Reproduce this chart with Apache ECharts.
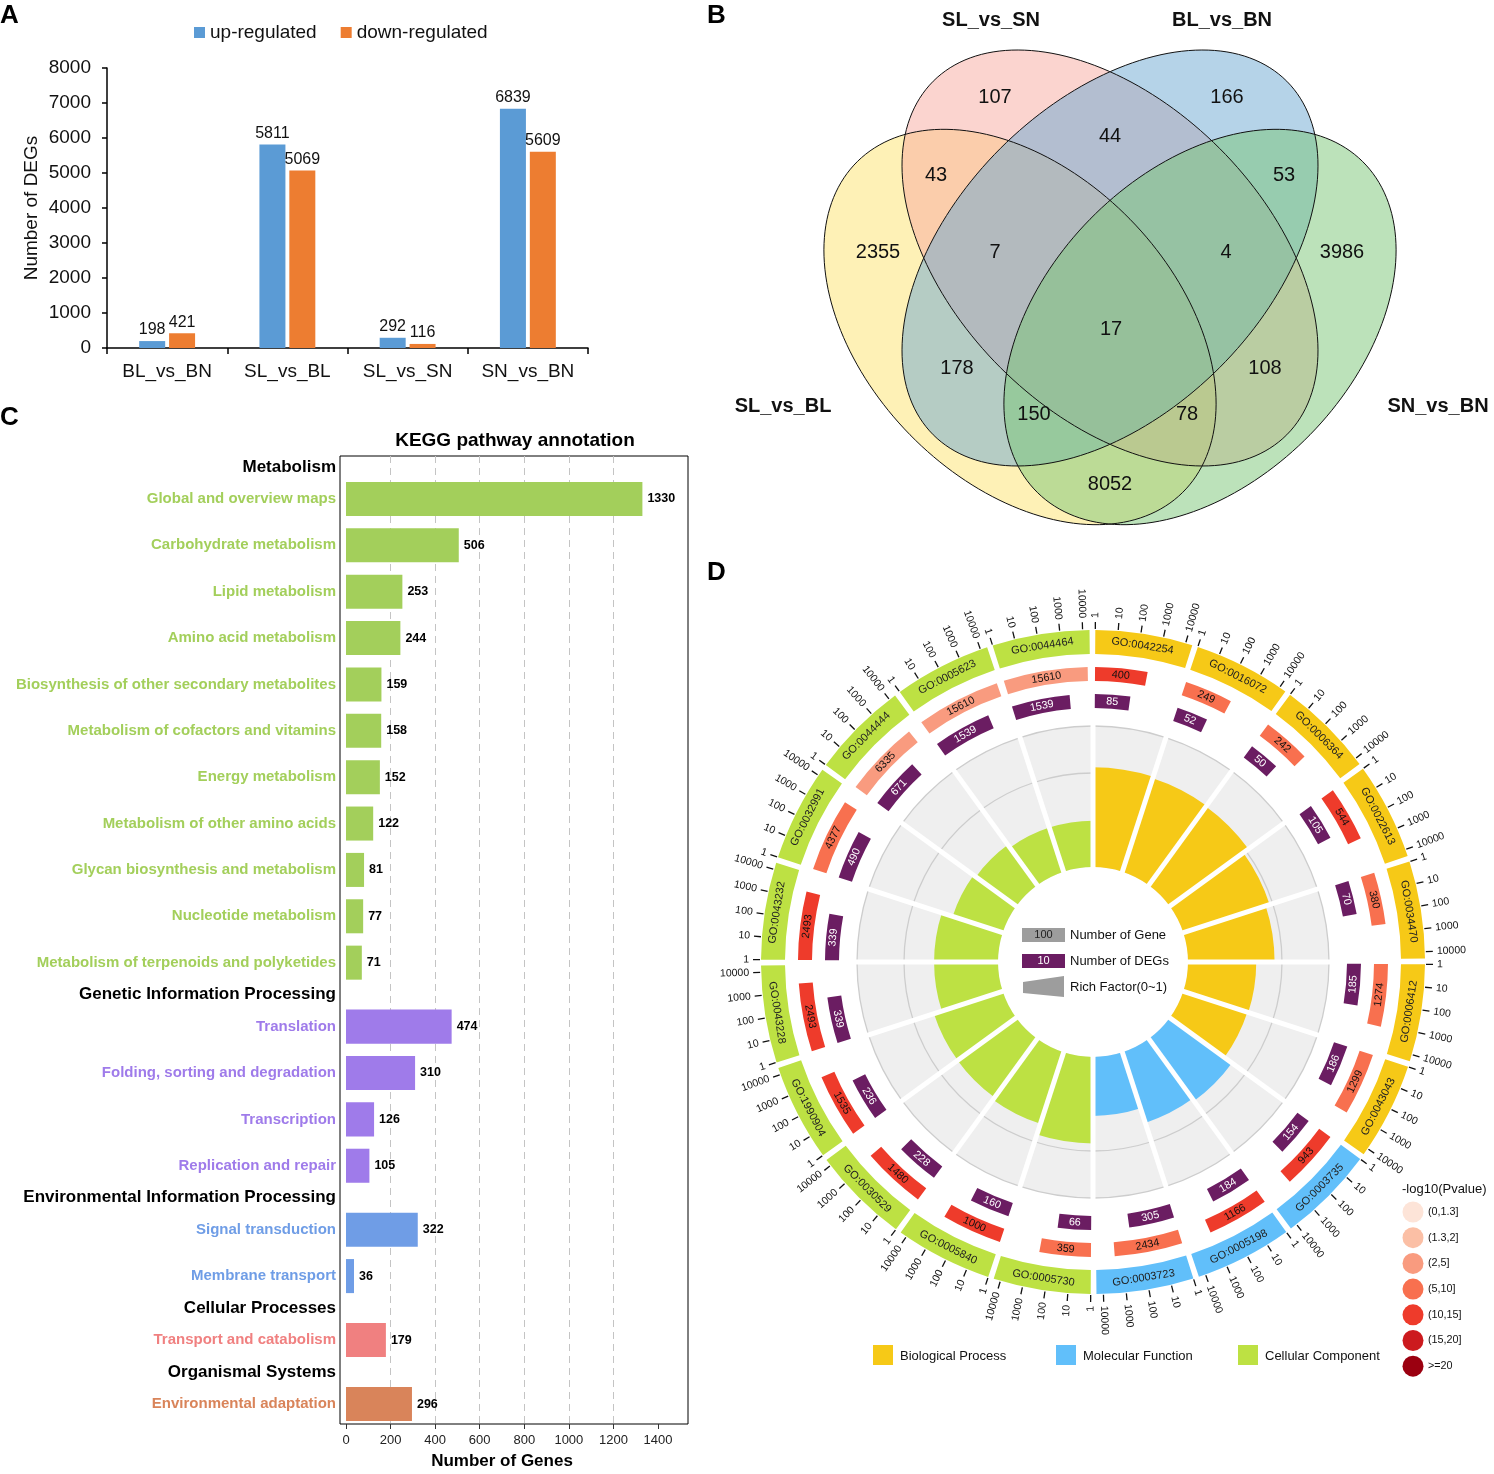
<!DOCTYPE html>
<html>
<head>
<meta charset="utf-8">
<title>DEG overview figure</title>
<script src="https://cdn.jsdelivr.net/npm/echarts@6/dist/echarts.min.js"></script>
<style>
html,body{margin:0;padding:0;background:#ffffff;}
#chart{width:1494px;height:1474px;}
</style>
</head>
<body>
<div id="chart"></div>
<script>
// ================= DATA =================
// Panel A
const degComparisons = ['BL_vs_BN', 'SL_vs_BL', 'SL_vs_SN', 'SN_vs_BN'];
const upRegulated = [198, 5811, 292, 6839];
const downRegulated = [421, 5069, 116, 5609];
const degSeriesNames = ['up-regulated', 'down-regulated'];

// Panel B (Venn)
const vennSetNames = ['SL_vs_BL', 'SL_vs_SN', 'BL_vs_BN', 'SN_vs_BN'];
const vennRegionMembers = [
  'SL_vs_SN', 'BL_vs_BN', 'SL_vs_SN+BL_vs_BN', 'SL_vs_BL+SL_vs_SN', 'BL_vs_BN+SN_vs_BN',
  'SL_vs_BL', 'SL_vs_BL+SL_vs_SN+BL_vs_BN', 'SL_vs_SN+BL_vs_BN+SN_vs_BN', 'SN_vs_BN', 'all',
  'SL_vs_BL+BL_vs_BN', 'SL_vs_SN+SN_vs_BN', 'SL_vs_BL+BL_vs_BN+SN_vs_BN', 'SL_vs_BL+SL_vs_SN+SN_vs_BN', 'SL_vs_BL+SN_vs_BN'
];
const vennRegionCounts = [107, 166, 44, 43, 53, 2355, 7, 4, 3986, 17, 178, 108, 150, 78, 8052];

// Panel C (KEGG)
const keggGroups = ['Metabolism', 'Genetic Information Processing', 'Environmental Information Processing', 'Cellular Processes', 'Organismal Systems'];
const keggPathways = [
  'Global and overview maps', 'Carbohydrate metabolism', 'Lipid metabolism', 'Amino acid metabolism',
  'Biosynthesis of other secondary metabolites', 'Metabolism of cofactors and vitamins', 'Energy metabolism',
  'Metabolism of other amino acids', 'Glycan biosynthesis and metabolism', 'Nucleotide metabolism',
  'Metabolism of terpenoids and polyketides',
  'Translation', 'Folding, sorting and degradation', 'Transcription', 'Replication and repair',
  'Signal transduction', 'Membrane transport',
  'Transport and catabolism',
  'Environmental adaptation'
];
const keggPathwayGroup = [0,0,0,0,0,0,0,0,0,0,0, 1,1,1,1, 2,2, 3, 4];
const keggGeneCounts = [1330, 506, 253, 244, 159, 158, 152, 122, 81, 77, 71, 474, 310, 126, 105, 322, 36, 179, 296];

// Panel D (GO circle)
const goTerms = ['GO:0042254','GO:0016072','GO:0006364','GO:0022613','GO:0034470','GO:0006412','GO:0043043',
  'GO:0003735','GO:0005198','GO:0003723',
  'GO:0005730','GO:0005840','GO:0030529','GO:1990904','GO:0043228','GO:0043232','GO:0032991','GO:0044444','GO:0005623','GO:0044464'];
const goOntology = ['BP','BP','BP','BP','BP','BP','BP','MF','MF','MF','CC','CC','CC','CC','CC','CC','CC','CC','CC','CC'];
const goGeneCounts = [400, 249, 242, 544, 380, 1274, 1299, 943, 1166, 2434, 359, 1000, 1480, 1535, 2493, 2493, 4377, 6335, 15610, 15610];
const goDegCounts = [85, 52, 50, 105, 70, 185, 186, 154, 184, 305, 66, 160, 228, 236, 339, 339, 490, 671, 1539, 1539];
const goNegLog10P = [12.5, 7.5, 7.5, 12.5, 7.5, 7.5, 7.5, 12.5, 12.5, 7.5, 7.5, 12.5, 12.5, 12.5, 12.5, 12.5, 7.5, 3.5, 3.5, 3.5];
const goOntologyKeys = ['BP', 'MF', 'CC'];
const goOntologyNames = ['Biological Process', 'Molecular Function', 'Cellular Component'];
const pValueBins = ['(0,1.3]', '(1.3,2]', '(2,5]', '(5,10]', '(10,15]', '(15,20]', '>=20'];
const pValueBinEdges = [1.3, 2, 5, 10, 15, 20];
const logTickLabels = ['1', '10', '100', '1000', '10000'];

// ================= STYLE / LAYOUT =================
const FONT = '"Liberation Sans", Arial, Helvetica, sans-serif';
const degColors = ['#5b9bd5', '#ed7d31'];
const vennFill = ['#fde36d', '#f7a99f', '#6ba7d1', '#79c575'];
const vennLayout = {
  // cx, cy, semi-major, semi-minor, rotation(deg) in panel units
  ellipses: [[320, 327, 232, 154, 45.6], [410, 258, 250, 155, 45], [410, 258, 250, 155, -45], [500, 327, 232, 154, -45.6]],
  labels: [[295,97],[527,97],[410,136],[236,175],[584,175],[178,252],[295,252],[526,252],[642,252],[411,329],[257,368],[565,368],[334,414],[487,414],[410,484]],
  setLabels: [[83,406],[291,20],[522,20],[738,406]]
};
const keggColors = ['#a3cf5b', '#9f7bea', '#6f9de6', '#f08080', '#d9845a'];
const KEGG_HEADER_STEP = 0.69;
const KEGG_BAR_HALF = 0.367;
const ontColors = {BP: '#f6c917', MF: '#61bffa', CC: '#bde143'};
const pColors = ['#fde4d8', '#fbbfa5', '#f99b7f', '#f8704f', '#ee3b2b', '#cc1a1e', '#9b0010'];
const degPurple = '#6b1d62';
const GO = {
  center: [1093, 962], rfRadius: [95, 236], rfMax: 0.3, rfGrid: [0.2, 0.3],
  ringMax: 400, degRing: [254, 268], geneRing: [281, 295], band: [308, 332], tick: [333, 340], tickLabel: 344,
  start: 0.4, perDecade: 3.95, bandEnd: 17.4
};
const GO_SPAN = 360 / goTerms.length;

// KEGG row layout built from the group structure
const keggRows = [];
(function () {
  let pos = 0;
  keggGroups.forEach((g, gi) => {
    if (keggRows.length) pos += KEGG_HEADER_STEP;
    keggRows.push({name: g, header: true, group: gi, value: 0, pos: pos});
    let first = true;
    keggPathways.forEach((p, pi) => {
      if (keggPathwayGroup[pi] !== gi) return;
      pos += first ? KEGG_HEADER_STEP : 1;
      first = false;
      keggRows.push({name: p, header: false, group: gi, value: keggGeneCounts[pi], pos: pos});
    });
  });
})();
const keggLast = keggRows[keggRows.length - 1].pos;

function pBinIndex(v) { let k = 0; while (k < pValueBinEdges.length && v > pValueBinEdges[k]) k++; return k; }
function norm360(a) { return ((a % 360) + 360) % 360; }

// ================= RENDERERS =================
function renderEllipse(fillMode) {
  return function (params, api) {
    const i = params.dataIndex;
    const e = vennLayout.ellipses[i];
    const t = e[4] * Math.PI / 180;
    const pts = [];
    for (let k = 0; k < 180; k++) {
      const th = k / 180 * 2 * Math.PI;
      const x = e[0] + e[2] * Math.cos(th) * Math.cos(t) - e[3] * Math.sin(th) * Math.sin(t);
      const y = e[1] + e[2] * Math.cos(th) * Math.sin(t) + e[3] * Math.sin(th) * Math.cos(t);
      pts.push(api.coord([x, y]));
    }
    if (fillMode) return {type: 'polygon', shape: {points: pts}, style: {fill: vennFill[i], opacity: 0.5}};
    return {type: 'polygon', shape: {points: pts}, style: {fill: null, stroke: '#111', lineWidth: 1}};
  };
}

function renderKegg(params, api) {
  const row = keggRows[params.dataIndex];
  const y = api.value(1);
  if (row.header) {
    const p = api.coord([0, y]);
    return {type: 'text', x: p[0] - 10, y: p[1], style: {text: row.name, fontFamily: FONT, fontSize: 17, fontWeight: 'bold', fill: '#000', align: 'right', verticalAlign: 'middle'}};
  }
  const p0 = api.coord([0, y - KEGG_BAR_HALF]);
  const p1 = api.coord([api.value(0), y + KEGG_BAR_HALF]);
  const col = keggColors[row.group];
  const cy = (p0[1] + p1[1]) / 2;
  return {type: 'group', children: [
    {type: 'rect', shape: {x: p0[0], y: p0[1], width: p1[0] - p0[0], height: p1[1] - p0[1]}, style: {fill: col}},
    {type: 'text', x: p1[0] + 5, y: cy, style: {text: String(row.value), fontFamily: FONT, fontSize: 12.5, fontWeight: 'bold', fill: '#000', align: 'left', verticalAlign: 'middle'}},
    {type: 'text', x: p0[0] - 10, y: cy, style: {text: row.name, fontFamily: FONT, fontSize: 15, fontWeight: 'bold', fill: col, align: 'right', verticalAlign: 'middle'}}
  ]};
}

function makeAngle(api, cs, rv) {
  return function (a) { const p = api.coord([rv, a]); return Math.atan2(p[1] - cs.cy, p[0] - cs.cx); };
}
function makeRad(api, cs) {
  return function (v) { const p = api.coord([v, 0]); return Math.hypot(p[0] - cs.cx, p[1] - cs.cy); };
}
function sectorEl(cs, ang, r0, r1, aa, ab, style) {
  let s = ang(aa), e = ang(ab);
  if (e < s) e += 2 * Math.PI;
  return {type: 'sector', shape: {cx: cs.cx, cy: cs.cy, r0: r0, r: r1, startAngle: s, endAngle: e}, style: style};
}
function arcEl(cs, ang, r, aa, ab, style) {
  let s = ang(aa), e = ang(ab);
  if (e < s) e += 2 * Math.PI;
  return {type: 'arc', shape: {cx: cs.cx, cy: cs.cy, r: r, startAngle: s, endAngle: e, clockwise: true}, style: style};
}

function renderRich(params, api) {
  const cs = params.coordSys, i = params.dataIndex;
  const a0 = i * GO_SPAN, a1 = (i + 1) * GO_SPAN;
  const ang = makeAngle(api, cs, GO.rfMax);
  const rad = makeRad(api, cs);
  const children = [
    sectorEl(cs, ang, rad(0), rad(GO.rfMax), a0, a1, {fill: '#efefef'})
  ];
  GO.rfGrid.forEach(g => children.push(arcEl(cs, ang, rad(g), a0, a1, {stroke: '#cdcdcd', lineWidth: 1.3, fill: null})));
  children.push(sectorEl(cs, ang, rad(0), rad(api.value(0)), a0, a1, {fill: ontColors[goOntology[i]]}));
  return {type: 'group', children: children};
}

function renderSeparator(params, api) {
  const cs = params.coordSys, i = params.dataIndex;
  const a = i * GO_SPAN;
  const pIn = api.coord([0, a]), pOut = api.coord([GO.rfMax, a]);
  const ext = (p, d) => { const dx = p[0] - cs.cx, dy = p[1] - cs.cy, L = Math.hypot(dx, dy); return [p[0] + dx / L * d, p[1] + dy / L * d]; };
  const q1 = ext(pIn, -4), q2 = ext(pOut, 3);
  return {type: 'line', shape: {x1: q1[0], y1: q1[1], x2: q2[0], y2: q2[1]}, style: {stroke: '#ffffff', lineWidth: 5}};
}

function tanText(pt, r, a, text, extra) {
  const p = pt(r, a);
  const t = norm360(a);
  const rotDeg = (t > 90 && t < 270) ? 180 - t : -t;
  return {type: 'text', x: p[0], y: p[1], rotation: rotDeg * Math.PI / 180,
    style: Object.assign({text: text, fontFamily: FONT, fontSize: 10.8, fill: '#111', align: 'center', verticalAlign: 'middle'}, extra || {})};
}
function radText(pt, r, a, text) {
  const p = pt(r, a);
  const t = norm360(a);
  const right = t < 180;
  const rotDeg = right ? 90 - t : 270 - t;
  return {type: 'text', x: p[0], y: p[1], rotation: rotDeg * Math.PI / 180,
    style: {text: text, fontFamily: FONT, fontSize: 10.5, fill: '#111', align: right ? 'left' : 'right', verticalAlign: 'middle'}};
}

function renderRings(params, api) {
  const cs = params.coordSys, i = params.dataIndex;
  const a0 = i * GO_SPAN;
  const ang = makeAngle(api, cs, 300);
  const rad = makeRad(api, cs);
  const pt = (r, a) => api.coord([r, a]);
  const gene = goGeneCounts[i], deg = goDegCounts[i];
  const gEnd = a0 + GO.start + Math.log10(gene) * GO.perDecade;
  const dEnd = a0 + GO.start + Math.log10(deg) * GO.perDecade;
  const children = [];
  // category band
  children.push(sectorEl(cs, ang, rad(GO.band[0]), rad(GO.band[1]), a0 + GO.start, a0 + GO.bandEnd, {fill: ontColors[goOntology[i]]}));
  children.push(tanText(pt, (GO.band[0] + GO.band[1]) / 2, a0 + (GO.start + GO.bandEnd) / 2, goTerms[i], {fontSize: 11, fill: '#222'}));
  // gene count bar
  children.push(sectorEl(cs, ang, rad(GO.geneRing[0]), rad(GO.geneRing[1]), a0 + GO.start, gEnd, {fill: pColors[pBinIndex(goNegLog10P[i])]}));
  children.push(tanText(pt, (GO.geneRing[0] + GO.geneRing[1]) / 2, (a0 + GO.start + gEnd) / 2, String(gene), {fill: '#111'}));
  // DEG bar
  children.push(sectorEl(cs, ang, rad(GO.degRing[0]), rad(GO.degRing[1]), a0 + GO.start, dEnd, {fill: degPurple}));
  children.push(tanText(pt, (GO.degRing[0] + GO.degRing[1]) / 2, (a0 + GO.start + dEnd) / 2, String(deg), {fill: '#ffffff'}));
  // log ticks
  logTickLabels.forEach((lab, L) => {
    const a = a0 + GO.start + L * GO.perDecade;
    const p1 = pt(GO.tick[0], a), p2 = pt(GO.tick[1], a);
    children.push({type: 'line', shape: {x1: p1[0], y1: p1[1], x2: p2[0], y2: p2[1]}, style: {stroke: '#111', lineWidth: 1.3}});
    children.push(radText(pt, GO.tickLabel, a, lab));
  });
  return {type: 'group', children: children};
}

// ================= GRAPHIC (panel letters, legends) =================
const graphics = [];
function gText(x, y, text, o) {
  graphics.push({type: 'text', x: x, y: y, silent: true,
    style: Object.assign({text: text, fontFamily: FONT, fontSize: 13, fill: '#111', align: 'left', verticalAlign: 'middle'}, o || {})});
}
gText(0, 16, 'A', {fontSize: 26, fontWeight: 'bold', fill: '#000'});
gText(707, 16, 'B', {fontSize: 26, fontWeight: 'bold', fill: '#000'});
gText(0, 418, 'C', {fontSize: 26, fontWeight: 'bold', fill: '#000'});
gText(707, 573, 'D', {fontSize: 26, fontWeight: 'bold', fill: '#000'});
gText(515, 441, 'KEGG pathway annotation', {fontSize: 19, fontWeight: 'bold', fill: '#000', align: 'center'});

// GO centre legend
graphics.push({type: 'rect', shape: {x: 1022, y: 928, width: 43, height: 14}, style: {fill: '#9d9d9d'}});
gText(1043.5, 935, '100', {fontSize: 11, fill: '#222', align: 'center'});
gText(1070, 935, 'Number of Gene');
graphics.push({type: 'rect', shape: {x: 1022, y: 954, width: 43, height: 14}, style: {fill: degPurple}});
gText(1043.5, 961, '10', {fontSize: 11, fill: '#fff', align: 'center'});
gText(1070, 961, 'Number of DEGs');
graphics.push({type: 'polygon', shape: {points: [[1023, 982], [1064, 976], [1064, 997], [1023, 993]]}, style: {fill: '#9d9d9d'}});
gText(1070, 987, 'Rich Factor(0~1)');

// ontology legend
const ontLegendX = [873, 1056, 1238];
goOntologyKeys.forEach((k, j) => {
  graphics.push({type: 'rect', shape: {x: ontLegendX[j], y: 1345, width: 20, height: 20}, style: {fill: ontColors[k]}});
  gText(ontLegendX[j] + 27, 1356, goOntologyNames[j]);
});
// p-value legend
gText(1402, 1189, '-log10(Pvalue)');
pValueBins.forEach((b, k) => {
  const y = 1212 + k * 25.7;
  graphics.push({type: 'circle', shape: {cx: 1413, cy: y, r: 10.5}, style: {fill: pColors[k]}});
  gText(1428, y, b, {fontSize: 10.8});
});

// ================= OPTION =================
const option = {
  animation: false,
  backgroundColor: '#ffffff',
  textStyle: {fontFamily: FONT},
  legend: {
    data: degSeriesNames, left: 189, top: 18, icon: 'rect', itemWidth: 11, itemHeight: 11, itemGap: 24,
    textStyle: {fontSize: 19, color: '#111', fontFamily: FONT}
  },
  grid: [
    {left: 107, top: 68, width: 481, height: 280, outerBoundsMode: 'none'},
    {left: 700, top: 0, width: 794, height: 530, outerBoundsMode: 'none'},
    {left: 340, top: 456, width: 348, height: 968, show: true, borderColor: '#000', borderWidth: 1, backgroundColor: 'transparent', outerBoundsMode: 'none'},
    {left: 346, top: 456, width: 312, height: 968, outerBoundsMode: 'none'}
  ],
  xAxis: [
    {gridIndex: 0, type: 'category', data: degComparisons,
      axisLine: {show: true, lineStyle: {color: '#000', width: 1.5}},
      axisTick: {show: true, interval: 0, length: 6, lineStyle: {color: '#000', width: 1.5}},
      axisLabel: {color: '#111', fontSize: 19, margin: 14, interval: 0, hideOverlap: false, fontFamily: FONT}},
    {gridIndex: 1, type: 'value', min: 0, max: 794, show: false},
    {gridIndex: 2, type: 'value', min: 0, max: 1, show: false},
    {gridIndex: 3, type: 'value', min: 0, max: 1400, interval: 200, position: 'bottom',
      axisLine: {show: false, onZero: false},
      axisTick: {show: true, length: 5, lineStyle: {color: '#333'}},
      axisLabel: {color: '#222', fontSize: 13, margin: 10, fontFamily: FONT, formatter: v => String(v)},
      splitLine: {show: true, showMinLine: false, showMaxLine: false, lineStyle: {color: '#c4c4c4', type: [7, 5], width: 1}},
      name: 'Number of Genes', nameLocation: 'middle', nameGap: 29,
      nameTextStyle: {fontSize: 17, fontWeight: 'bold', color: '#000', fontFamily: FONT}}
  ],
  yAxis: [
    {gridIndex: 0, type: 'value', min: 0, max: 8000, interval: 1000,
      axisLine: {show: true, lineStyle: {color: '#000', width: 1.5}},
      axisTick: {show: true, length: 5, lineStyle: {color: '#000', width: 1.5}},
      splitLine: {show: false},
      axisLabel: {color: '#111', fontSize: 19, margin: 16, fontFamily: FONT, formatter: v => String(v)},
      name: 'Number of DEGs', nameLocation: 'middle', nameGap: 66, nameRotate: 90,
      nameTextStyle: {fontSize: 19, color: '#111', fontFamily: FONT}},
    {gridIndex: 1, type: 'value', min: 0, max: 530, inverse: true, show: false},
    {gridIndex: 2, type: 'value', min: 0, max: 1, show: false},
    {gridIndex: 3, type: 'value', min: -0.237, max: keggLast + 0.43, inverse: true, show: false}
  ],
  polar: [
    {center: GO.center, radius: GO.rfRadius},
    {center: GO.center, radius: [0, GO.ringMax]}
  ],
  angleAxis: [
    {polarIndex: 0, type: 'value', min: 0, max: 360, startAngle: 90, clockwise: true, show: false},
    {polarIndex: 1, type: 'value', min: 0, max: 360, startAngle: 90, clockwise: true, show: false}
  ],
  radiusAxis: [
    {polarIndex: 0, type: 'value', min: 0, max: GO.rfMax, show: false},
    {polarIndex: 1, type: 'value', min: 0, max: GO.ringMax, show: false}
  ],
  series: [
    {type: 'bar', name: degSeriesNames[0], xAxisIndex: 0, yAxisIndex: 0, data: upRegulated, barWidth: 26, barGap: '15%',
      itemStyle: {color: degColors[0]}, label: {show: true, position: 'top', distance: 3, color: '#111', fontSize: 16, fontFamily: FONT}},
    {type: 'bar', name: degSeriesNames[1], xAxisIndex: 0, yAxisIndex: 0, data: downRegulated, barWidth: 26, barGap: '15%',
      itemStyle: {color: degColors[1]}, label: {show: true, position: 'top', distance: 3, color: '#111', fontSize: 16, fontFamily: FONT}},
    // Venn
    {type: 'custom', name: 'venn-fill', xAxisIndex: 1, yAxisIndex: 1, silent: true,
      data: vennSetNames.map((n, i) => [vennLayout.ellipses[i][0], vennLayout.ellipses[i][1]]), renderItem: renderEllipse(true)},
    {type: 'custom', name: 'venn-line', xAxisIndex: 1, yAxisIndex: 1, silent: true,
      data: vennSetNames.map((n, i) => [vennLayout.ellipses[i][0], vennLayout.ellipses[i][1]]), renderItem: renderEllipse(false)},
    {type: 'custom', name: 'venn-counts', xAxisIndex: 1, yAxisIndex: 1, silent: true,
      data: vennRegionCounts.map((c, i) => [vennLayout.labels[i][0], vennLayout.labels[i][1], c]),
      renderItem: (params, api) => {
        const p = api.coord([api.value(0), api.value(1)]);
        return {type: 'text', x: p[0], y: p[1], style: {text: String(api.value(2)), fontFamily: FONT, fontSize: 20, fill: '#111', align: 'center', verticalAlign: 'middle'}};
      }},
    {type: 'custom', name: 'venn-sets', xAxisIndex: 1, yAxisIndex: 1, silent: true,
      data: vennSetNames.map((n, i) => [vennLayout.setLabels[i][0], vennLayout.setLabels[i][1]]),
      renderItem: (params, api) => {
        const p = api.coord([api.value(0), api.value(1)]);
        return {type: 'text', x: p[0], y: p[1], style: {text: vennSetNames[params.dataIndex], fontFamily: FONT, fontSize: 20, fontWeight: 'bold', fill: '#111', align: 'center', verticalAlign: 'middle'}};
      }},
    // KEGG
    {type: 'custom', name: 'kegg', xAxisIndex: 3, yAxisIndex: 3, silent: true,
      data: keggRows.map(r => [r.value, r.pos]), renderItem: renderKegg},
    // GO circle
    {type: 'custom', name: 'go-rich', coordinateSystem: 'polar', polarIndex: 0, silent: true,
      data: goTerms.map((t, i) => [goDegCounts[i] / goGeneCounts[i], i * GO_SPAN + GO_SPAN / 2]), renderItem: renderRich},
    {type: 'custom', name: 'go-sep', coordinateSystem: 'polar', polarIndex: 0, silent: true, z: 5,
      data: goTerms.map((t, i) => [0, i * GO_SPAN]), renderItem: renderSeparator},
    {type: 'custom', name: 'go-rings', coordinateSystem: 'polar', polarIndex: 1, silent: true,
      data: goTerms.map((t, i) => [0, i * GO_SPAN + GO_SPAN / 2]), renderItem: renderRings}
  ],
  graphic: {elements: graphics}
};

const chart = echarts.init(document.getElementById('chart'), null, {renderer: 'canvas', width: 1494, height: 1474});
chart.setOption(option);
</script>
</body>
</html>
